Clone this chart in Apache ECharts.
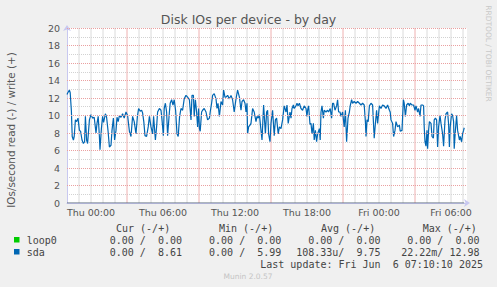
<!DOCTYPE html>
<html><head><meta charset="utf-8">
<script src="https://cdn.jsdelivr.net/npm/echarts@6/dist/echarts.min.js"></script>
<style>html,body{margin:0;padding:0;background:#f0f0f0}#c{width:497px;height:287px}</style>
</head><body><div id="c"></div>
<script>
// minutes relative to Thu 00:00
const sdaTimes = [-120,-116,-108,-104,-98,-94,-88,-84,-78,-72,-65,-58,-52,-45,-38,-32,-28,-22,-17,-8,
0,8,16,25,30,36,42,45,52,58,63,72,78,85,92,100,105,112,118,125,130,136,142,150,158,166,175,183,192,200,
208,216,225,232,238,246,253,258,264,270,278,286,292,300,308,313,322,328,333,342,350,355,362,366,372,378,383,392,396,403,
410,416,423,430,436,443,450,458,466,475,483,492,500,505,512,516,522,528,533,538,542,546,553,558,566,575,583,592,596,603,
608,616,625,630,635,642,650,658,663,670,675,683,692,700,708,716,725,733,742,750,755,763,770,775,780,783,788,795,800,808,
816,825,830,836,842,850,855,863,872,878,883,888,895,900,908,916,922,928,936,942,950,958,966,975,980,986,995,1000,1005,1012,
1016,1025,1030,1035,1042,1050,1058,1066,1075,1080,1083,1088,1095,1100,1105,1112,1116,1122,1128,1133,1142,1146,1150,1155,1162,1166,1175,1183,1188,1196,
1203,1208,1213,1220,1228,1233,1238,1245,1250,1258,1266,1272,1278,1285,1292,1296,1303,1308,1316,1325,1333,1342,1350,1358,1366,1372,1375,1380,1386,1392,
1400,1408,1416,1422,1428,1433,1442,1450,1458,1466,1475,1483,1492,1496,1500,1508,1513,1520,1525,1533,1542,1546,1555,1562,1566,1572,1578,1586,1592,1596,
1605,1613,1620,1625,1633,1638,1645,1650,1658,1663,1666,1670,1675,1680,1683,1688,1692,1700,1705,1712,1716,1722,1728,1733,1738,1745,1750,1758,1763,1770,
1775,1783,1788,1792,1796,1803,1808,1813,1816,1822,1828,1833,1842,1846,1853,1858,1863,1866];
const sdaWrite = [12.4,12.6,12.9,12.6,10.5,7.6,7.2,7.6,9.5,9.3,9.7,8.3,8.2,7.2,6.8,7.0,9.9,7.2,6.8,9.5,
10.1,9.7,9.8,8.0,9.1,9.9,7.6,6.1,8.5,9.9,9.2,10.2,9.8,8.3,6.4,6.6,8.3,9.7,7.2,8.3,9.8,9.3,10.0,9.8,10.2,9.7,10.4,10.0,8.2,7.6,
9.9,9.3,7.9,9.9,10.8,10.5,10.6,10.3,9.3,7.7,7.6,8.7,9.9,8.7,7.9,9.9,7.2,8.7,10.4,10.8,10.6,9.5,7.7,10.8,11.4,10.4,7.7,10.4,11.4,11.8,
11.2,11.8,10.6,7.9,7.6,9.9,10.8,10.6,11.9,12.3,12.1,11.8,9.5,12.3,12.3,9.9,11.8,10.4,8.7,10.8,8.5,8.2,10.4,10.6,10.8,10.4,9.5,9.7,10.4,11.4,
12.3,12.5,11.9,10.8,11.4,9.9,11.6,11.2,12.9,12.1,12.1,12.3,11.9,12.3,11.8,10.4,11.9,12.9,12.1,10.6,11.6,11.8,11.4,10.4,11.4,7.9,8.7,8.9,9.1,10.8,
10.4,9.3,9.9,9.7,10.1,8.3,7.2,11.2,7.9,10.4,10.6,7.9,7.0,9.1,10.6,7.7,9.5,9.7,7.9,8.7,8.5,9.5,11.1,10.4,11.2,9.1,10.4,9.7,10.8,11.2,
10.8,11.1,11.4,11.1,11.4,10.8,10.6,11.1,10.8,9.9,10.6,11.1,9.0,9.1,7.9,9.1,7.2,8.3,7.0,7.9,8.5,7.2,10.4,11.1,9.7,10.6,10.4,10.6,10.4,10.8,
9.7,11.4,11.4,10.6,11.1,11.8,10.4,10.4,9.9,10.4,8.7,10.6,7.0,9.7,10.4,11.1,11.8,11.4,11.6,11.4,11.6,11.4,11.2,11.4,11.2,9.3,7.6,9.5,9.3,11.1,
11.4,11.2,7.4,9.1,10.6,9.1,11.1,10.8,11.2,11.1,10.8,11.2,10.6,10.4,9.5,9.1,7.6,8.3,9.3,8.7,8.9,8.2,8.3,11.8,11.4,9.9,11.2,11.4,11.1,11.4,
11.2,11.2,10.6,11.1,10.4,10.8,9.9,11.2,11.2,11.1,8.7,7.0,6.5,8.3,6.2,8.3,9.3,9.1,7.6,7.4,9.5,9.7,9.5,6.4,8.7,10.0,9.1,7.9,6.5,9.5,
10.2,10.4,9.0,6.4,8.7,10.2,10.0,9.3,6.2,8.3,10.0,8.3,7.2,7.6,7.0,7.9,8.3,8.6];
// read (-) side is zero over the whole period (loop0 is zero too and lies underneath)
const zeroTimes = [-120, 1866];
const sdaRead = [0, 0];

const xTickValues = [0, 360, 720, 1080, 1440, 1800];
const xTickLabels = ['Thu 00:00','Thu 06:00','Thu 12:00','Thu 18:00','Fri 00:00','Fri 06:00'];
const xMajorGrid = [180, 540, 900, 1260, 1620];
const yMajorGrid = [2, 4, 6, 8, 10, 12, 14, 16, 18, 20];

const legendNames = ['loop0', 'sda'];
const legendColors = ['#00cc00', '#0066b3'];
const colHeaders = ['Cur (-/+)', 'Min (-/+)', 'Avg (-/+)', 'Max (-/+)'];
const loop0Stats = ['0.00 /\u00a0\u00a00.00', '0.00 /\u00a0\u00a00.00', '0.00 /\u00a0\u00a00.00', '0.00 /\u00a0\u00a00.00'];
const sdaStats = ['0.00 /\u00a0\u00a08.61', '0.00 /\u00a0\u00a05.99', '108.33u/\u00a0\u00a09.75', '22.22m/ 12.98'];
const lastUpdate = 'Last update: Fri Jun\u00a0\u00a06 07:10:10 2025';

const pair = (t, v) => t.map((x, i) => [x, v[i]]);
const chart = echarts.init(document.getElementById('c'), null, {renderer: 'svg'});
const sans = 'DejaVu Sans';
const mono = '10px "DejaVu Sans Mono"';
const minorC = '#d2d2d2', majorC = '#eaa0a0';
const xMin = -120, xMax = 1880, xStep = 60;

const colStartH = [116, 219, 321, 422.7];
const colEnd = [182, 281.3, 380.5, 479.5];
const txt = (x, y, text, font, fill, align, extra) => Object.assign({type:'text', x:x, y:y, style:{text:text, font:font, fill:fill, align:align, verticalAlign:'middle', textAlign:align, textVerticalAlign:'middle'}}, extra || {});
const graphics = [
  txt(248.5, 19.5, 'Disk IOs per device - by day', '12.5px "DejaVu Sans"', '#555', 'center'),
  txt(10.5, 130, 'IOs/second read (-) / write (+)', '10.4px "DejaVu Sans"', '#555', 'center', {rotation: Math.PI/2}),
  txt(488, 53.5, 'RRDTOOL / TOBI OETIKER', '7.5px "DejaVu Sans"', '#c8c8c8', 'center', {rotation: -Math.PI/2}),
  txt(248, 276.5, 'Munin 2.0.57', '7.5px "DejaVu Sans"', '#c4c4c4', 'center'),
  txt(483, 264, lastUpdate, mono, '#444', 'right')
];
colHeaders.forEach((h, i) => graphics.push(txt(colStartH[i], 228.5, h, mono, '#444', 'left')));
[loop0Stats, sdaStats].forEach((row, r) => {
  const y = 240 + r * 12;
  graphics.push({type:'rect', shape:{x:14, y:y - 3, width:5.5, height:5.5}, style:{fill:legendColors[r]}});
  graphics.push(txt(26.7, y, legendNames[r], mono, '#444', 'left'));
  row.forEach((s, i) => graphics.push(txt(colEnd[i], y, s, mono, '#444', 'right')));
});

// vertical hour grid drawn as broken line segments on the x scale
const minorSeg = [], majorSeg = [];
for (let v = xMin + xStep; v < xMax; v += xStep) {
  const target = xMajorGrid.indexOf(v) >= 0 ? majorSeg : minorSeg;
  target.push([v, 0], [v, 20], [v, '-']);
}
const hLines = yMajorGrid.map(v => ({yAxis: v, lineStyle: {color: majorC, type: 'dotted', width: 1}}));

chart.setOption({
  backgroundColor: '#f0f0f0',
  animation: false,
  grid: {left: 67, right: 30, top: 28, bottom: 84, show: true, backgroundColor: '#ffffff', borderWidth: 0},
  xAxis: {
    type: 'value', min: xMin, max: xMax, interval: xStep,
    axisLine: {show: true, onZero: false, lineStyle: {color: '#c8c8f0', width: 1}, symbol: ['none', 'arrow'], symbolSize: [6, 6], symbolOffset: [0, 3]},
    axisTick: {show: false},
    axisLabel: {
      fontFamily: sans, fontSize: 9.5, color: '#555', margin: 4, showMinLabel: false, showMaxLabel: false,
      formatter: v => { const i = xTickValues.indexOf(v); return i >= 0 ? xTickLabels[i] : ''; }
    },
    splitLine: {show: false}
  },
  yAxis: {
    type: 'value', min: 0, max: 20, interval: 1,
    axisLine: {show: true, onZero: false, lineStyle: {color: '#c8c8f0', width: 1}, symbol: ['none', 'arrow'], symbolSize: [6, 6], symbolOffset: [0, 3]},
    axisTick: {show: false},
    axisLabel: {fontFamily: sans, fontSize: 9.5, color: '#555', margin: 7, formatter: v => (v % 2 === 0 ? String(v) : '')},
    splitLine: {show: true, lineStyle: {color: minorC, type: 'dotted', width: 1}}
  },
  series: [
    {type:'line', name:'grid minor', z:1, silent:true, connectNulls:false, data: minorSeg, symbol:'none', lineStyle:{color:'#dadada', width:1}},
    {type:'line', name:'grid major', z:1, silent:true, connectNulls:false, data: majorSeg, symbol:'none', lineStyle:{color:'#eeb0b0', width:1}},
    {type:'line', name:'sda read', z:3, data: pair(zeroTimes, sdaRead), symbol:'none', lineStyle:{color:'#5a6a7a', width:1},
     markLine: {silent: true, symbol: ['none', 'none'], label: {show: false}, animation: false,
       emphasis: {disabled: true}, data: hLines}},
    {type:'line', name:'sda write', z:4, data: pair(sdaTimes, sdaWrite), symbol:'none', lineStyle:{color:legendColors[1], width:1.2}}
  ],
  graphic: graphics
});
</script></body></html>
